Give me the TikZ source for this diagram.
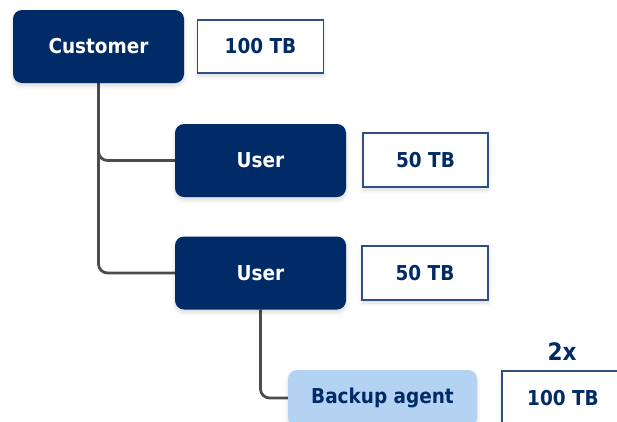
\documentclass[tikz,border=0pt]{standalone}
\usepackage{fontspec}
\setmainfont{DejaVu Sans Condensed}
\usetikzlibrary{shadows.blur,backgrounds}
\definecolor{navy}{RGB}{0,43,102}
\definecolor{paleblue}{RGB}{180,211,242}
\definecolor{framecol}{RGB}{45,78,135}
\definecolor{linkgray}{RGB}{75,75,80}
\tikzset{
  boxglow/.style={blur shadow={shadow xshift=0pt, shadow yshift=-3pt,
      shadow blur radius=4pt, shadow opacity=15}},
  labelfont/.style={font=\fontsize{20.5}{24}\selectfont\bfseries},
  rolebox/.style={rectangle, rounded corners=9pt, fill=navy, text=white,
      minimum width=171pt, minimum height=73pt, inner sep=0pt, boxglow, labelfont},
  agentbox/.style={rectangle, rounded corners=9pt, fill=paleblue, text=navy,
      minimum width=189pt, minimum height=56pt, inner sep=0pt, boxglow, labelfont},
  quotabox/.style={rectangle, draw=framecol, line width=1.8pt, fill=white,
      text=navy, minimum width=126pt, minimum height=53pt, inner sep=0pt,
      boxglow, labelfont},
  link/.style={draw=linkgray, line width=2.8pt, rounded corners=9pt},
}
\begin{document}
\begin{tikzpicture}[x=1pt, y=-1pt]
  \useasboundingbox (0,0) rectangle (617,421);
  \clip (0,0) rectangle (617,421);
  % hierarchy boxes
  \node[rolebox] (cust) at (98.5,46.5) {Customer};
  \node[rolebox] (user1) at (260.5,160.5) {User};
  \node[rolebox] (user2) at (260.5,273) {User};
  \node[agentbox] (agent) at (382.5,398) {Backup agent};
  % storage quotas
  \node[quotabox] (q0) at (260.5,46.5) {100 TB};
  \node[quotabox, minimum width=125pt, minimum height=54pt] (q1) at (425.5,160) {50 TB};
  \node[quotabox, minimum height=54pt] (q2) at (425,273) {50 TB};
  \node[quotabox, minimum width=122pt, minimum height=54pt] (q3) at (563,398) {100 TB};
  \node[text=navy, font=\fontsize{24}{28}\selectfont\bfseries, anchor=base] (mult) at (562,360) {2x};
  % tree connectors behind the boxes
  \begin{scope}[on background layer]
    \path[link] (cust.south) |- (user1.west);
    \path[link] (cust.south) |- (user2.west);
    \path[link] (user2.south) |- (agent.west);
  \end{scope}
\end{tikzpicture}
\end{document}
